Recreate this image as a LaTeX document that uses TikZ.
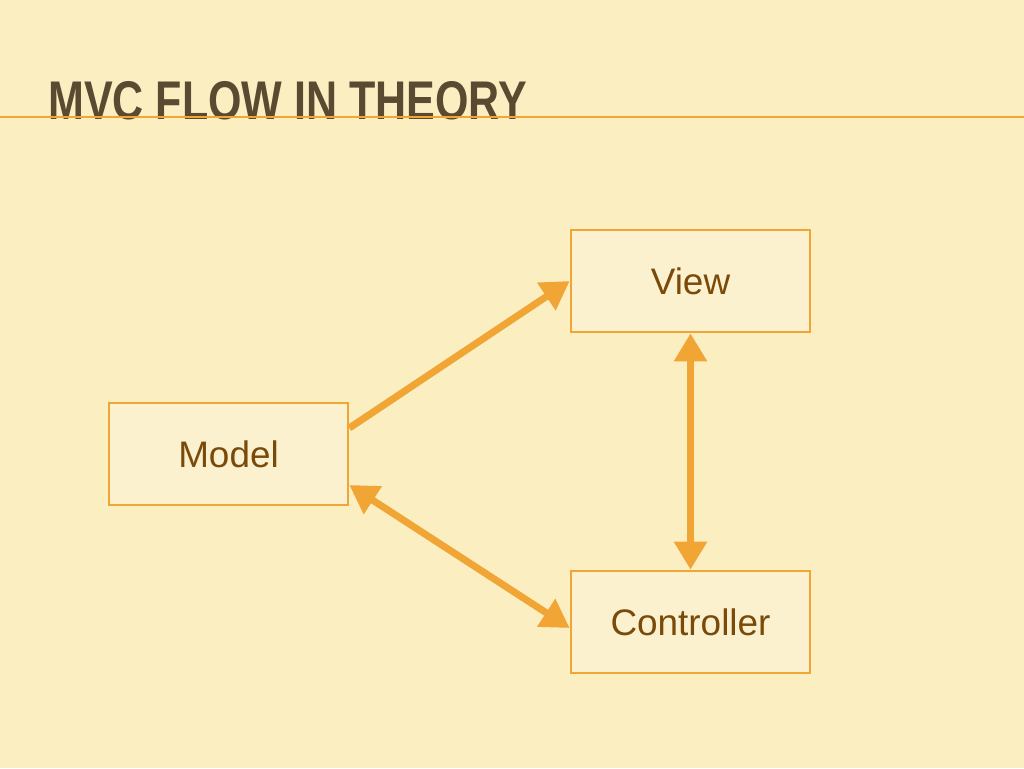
\documentclass[tikz,border=0pt]{standalone}
\usepackage{fontspec}
\setmainfont{Liberation Sans}
\usetikzlibrary{positioning,arrows.meta}
\definecolor{bgcream}{HTML}{FBEFC2}
\definecolor{boxfill}{HTML}{FCF1CF}
\definecolor{edge}{HTML}{F0A535}
\definecolor{labeltext}{HTML}{7A4A0A}
\definecolor{titletext}{HTML}{5A4A32}
\begin{document}
\begin{tikzpicture}[x=0.02cm,y=-0.02cm,
        block/.style={rectangle, draw=edge, line width=1.5pt, fill=boxfill, minimum width=4.78cm, minimum height=2.04cm, text=labeltext, font=\fontsize{21}{25}\selectfont},
        link/.style={draw=edge, line width=4pt, -{Triangle[length=16pt,width=18pt]}},
        twolink/.style={link, {Triangle[length=16pt,width=18pt]}-{Triangle[length=16pt,width=18pt]}}
    ]
        \fill[bgcream] (0,0) rectangle (1024,768);
        \useasboundingbox (0,0) rectangle (1024,768);
        \node[anchor=west, text=titletext, font=\bfseries\fontsize{31}{36}\selectfont, xscale=0.79, inner sep=0] (title) at (48,101) {MVC FLOW IN THEORY};
        \draw[edge, line width=1pt] (0,117) -- (1024,117);

        \node[block] (view) at (690.5,281) {View};
        \node[block] (model) at (228.5,454) {Model};
        \node[block] (controller) at (690.5,622) {Controller};

        \draw[link] (model.east |- 0,428) -- (view.west);
        \draw[twolink] (view.south) -- (controller.north);
        \draw[twolink] (model.east |- 0,485) -- (controller.west |- 0,628);
    \end{tikzpicture}
\end{document}
